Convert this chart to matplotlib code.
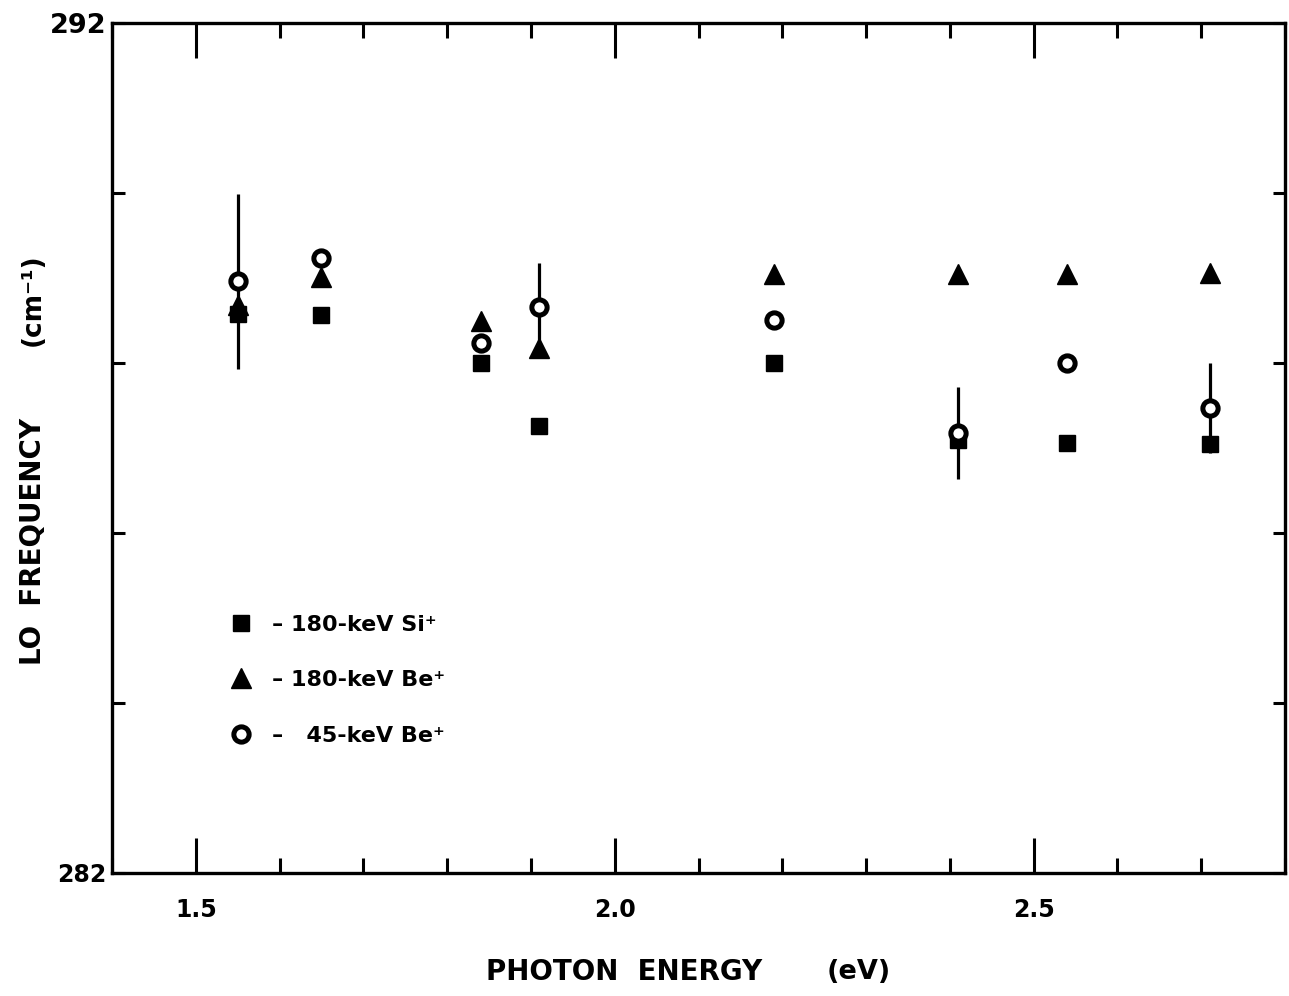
import matplotlib
matplotlib.use("Agg")
from matplotlib import pyplot as plt
from matplotlib.ticker import MultipleLocator, FixedLocator
import numpy as np

plt.rcParams['font.family'] = ['DejaVu Sans']
plt.rcParams['font.weight'] = 'bold'

# photon energies (eV)
energy = [1.55, 1.65, 1.84, 1.91, 2.19, 2.41, 2.54, 2.71]

# LO frequency (cm^-1)
si_180 = [288.58, 288.56, 288.0, 287.26, 288.0, 287.09, 287.06, 287.05]
be_180 = [288.68, 289.01, 288.50, 288.18, 289.05, 289.05, 289.05, 289.06]
be_45 = [288.96, 289.23, 288.24, 288.66, 288.51, 287.18, 288.0, 287.47]
be_45_err = [1.03, 0.0, 0.0, 0.52, 0.0, 0.54, 0.0, 0.53]

labels = ["\u2013 180-keV Si\u207a", "\u2013 180-keV Be\u207a", "\u2013   45-keV Be\u207a"]

fig = plt.figure(figsize=(12.89, 9.96), dpi=100)
ax = fig.add_axes([0.0869, 0.1235, 0.9100, 0.8534])

# error bars first, markers on top
err = np.array(be_45_err)
has = err > 0
ax.errorbar(np.array(energy)[has], np.array(be_45)[has], yerr=err[has],
            fmt='none', ecolor='black', elinewidth=2.3, capsize=0, zorder=1)

h1, = ax.plot(energy, si_180, 's', color='black', ms=12, zorder=3)
h2, = ax.plot(energy, be_180, '^', color='black', ms=15, zorder=3)
h3, = ax.plot(energy, be_45, 'o', mfc='white', mec='black', mew=3.6, ms=11, zorder=4)

ax.set_xlim(1.4, 2.8)
ax.set_ylim(282, 292)

ax.xaxis.set_major_locator(FixedLocator([1.5, 2.0, 2.5]))
ax.xaxis.set_minor_locator(MultipleLocator(0.1))
ax.set_xticklabels(["1.5", "2.0", "2.5"], fontsize=17, fontweight='bold')
ax.yaxis.set_major_locator(FixedLocator([282, 284, 286, 288, 290, 292]))
ax.set_yticklabels(["282", "", "", "", "", "292"], fontweight='bold')
for lab in ax.get_yticklabels():
    if lab.get_text() == "292":
        lab.set_fontsize(19.5)
    else:
        lab.set_fontsize(17)

ax.tick_params(axis='x', which='major', direction='in', length=25, width=2.2,
               top=True, bottom=True, pad=18)
ax.tick_params(axis='x', which='minor', direction='in', length=10.5, width=2.2,
               top=True, bottom=True)
ax.tick_params(axis='y', which='major', direction='in', length=9, width=2.2,
               left=True, right=True, pad=4)
for s in ax.spines.values():
    s.set_linewidth(2.4)

fig.text(0.484, 0.024, "PHOTON  ENERGY", ha='center', va='center',
         fontsize=20, fontweight='bold')
fig.text(0.666, 0.024, "(eV)", ha='center', va='center',
         fontsize=19.5, fontweight='bold')
fig.text(0.0256, 0.456, "LO  FREQUENCY", ha='center', va='center',
         rotation=90, fontsize=20, fontweight='bold')
fig.text(0.0256, 0.699, "(cm\u207b\u00b9)", ha='center', va='center',
         rotation=90, fontsize=19, fontweight='bold')

ax.legend([h1, h2, h3], labels, loc='upper left', bbox_to_anchor=(0.0925, 0.3145),
          frameon=False, prop={'weight': 'bold', 'size': 16},
          handlelength=1.0, handletextpad=0.9, labelspacing=1.6,
          borderaxespad=0, borderpad=0.4)

fig.savefig("out.png", dpi=100)
